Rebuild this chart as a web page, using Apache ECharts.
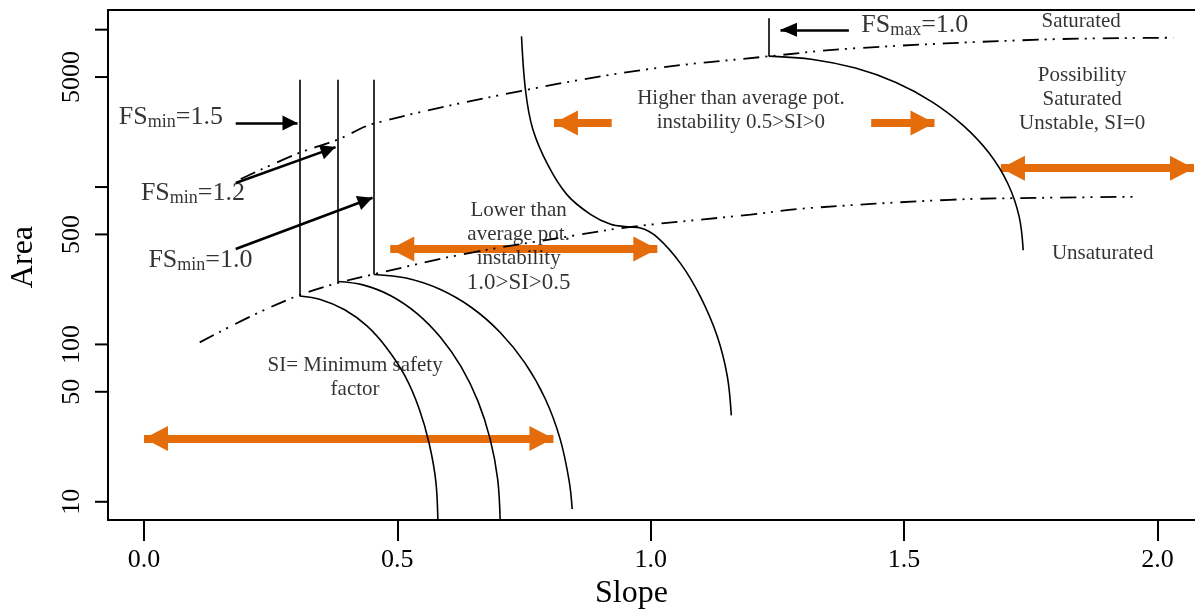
<!DOCTYPE html>
<html><head><meta charset="utf-8">
<script src="https://cdn.jsdelivr.net/npm/echarts@6/dist/echarts.min.js"></script>
<style>html,body{margin:0;padding:0;background:#fff}#c{width:1195px;height:615px}</style>
</head><body><div id="c"></div>
<script>
// ---- axes ----
const xRange = [-0.071, 2.074];
const yRange = [7.65, 13335];
const xTickValues = [0, 0.5, 1.0, 1.5, 2.0];
const xTickLabels = ['0.0', '0.5', '1.0', '1.5', '2.0'];
const yTickValues = [10, 50, 100, 500, 1000, 5000, 10000];
const yTickLabels = ['10', '50', '100', '500', '', '5000', ''];

// ---- boundary lines (dash-dot) ----
const saturatedLine = [[0.191,1125],[0.304,1637],[0.383,2005],[0.453,2527],[0.743,4074],[0.993,5598],[1.230,6761],[1.394,7586],[1.768,8644],[2.031,8892]];
const unsaturatedLine = [[0.110,103],[0.211,151],[0.304,204],[0.383,246],[0.455,280],[0.631,375],[0.862,500],[0.966,561],[1.197,668],[1.295,728],[1.591,830],[1.768,854],[1.960,867]];

// ---- safety factor curves ----
const fsMin15Curve = [[0.307,203],[0.348,193],[0.396,166],[0.440,131],[0.480,94],[0.515,63],[0.543,39],[0.563,23.3],[0.576,13.4],[0.580,7.4]];
const fsMin12Curve = [[0.382,251],[0.432,239],[0.487,204],[0.539,157],[0.585,111],[0.626,72],[0.659,43.6],[0.683,25.1],[0.698,13.9],[0.703,7.4]];
const fsMin10Curve = [[0.454,278],[0.517,264],[0.584,224],[0.647,171],[0.703,119],[0.752,76],[0.792,45],[0.821,25.2],[0.839,13.6],[0.845,9.0]];
const si05Curve = [[0.745,9065],[0.753,4091],[0.767,2350],[0.797,1383],[0.835,892],[0.881,671],[0.921,580],[0.954,559],[0.980,549],[1.013,479],[1.059,326],[1.098,201],[1.131,113],[1.151,63],[1.159,35.4]];
const fsMaxCurve = [[1.233,6790],[1.320,6470],[1.404,5700],[1.484,4620],[1.555,3480],[1.617,2455],[1.668,1637],[1.705,1046],[1.727,649],[1.735,397]];
const verticalSegments = [
  [[0.307,4800],[0.307,205]],
  [[0.382,4800],[0.382,251]],
  [[0.454,4800],[0.454,278]],
  [[1.233,11800],[1.233,6790]]
];

// ---- arrows ----
const blackArrows = [
  [[0.181,2553],[0.303,2553]],
  [[0.181,1061],[0.378,1794]],
  [[0.181,404],[0.451,854]]
];
const blackArrowFsMax = [[[1.391,9986],[1.256,9986]]];
const orangeDoubleArrows = [
  [[0.0,25.2],[0.808,25.2]],
  [[0.486,404],[1.013,404]],
  [[1.691,1318],[2.072,1318]]
];
const orangeSingleArrows = [
  [[0.923,2553],[0.809,2553]],
  [[1.435,2553],[1.560,2553]]
];

// ---- text annotations ----
const annotations = [
  {text:'{n|FS}{s|min}{n|=1.5}', x:0.053, y:2784},
  {text:'{n|FS}{s|min}{n|=1.2}', x:0.0966, y:915},
  {text:'{n|FS}{s|min}{n|=1.0}', x:0.1114, y:342},
  {text:'{n|FS}{s|max}{n|=1.0}', x:1.521, y:10656},
  {text:'Saturated', x:1.8494, y:11342},
  {text:'Higher than average pot.\ninstability 0.5>SI>0', x:1.178, y:3063},
  {text:'Possibility\nSaturated\nUnstable, SI=0', x:1.8513, y:3618},
  {text:'Unsaturated', x:1.8918, y:380},
  {text:'Lower than\naverage pot.\ninstability', x:0.7393, y:499},
  {text:'1.0>SI>0.5', x:0.7393, y:244, size:23},
  {text:'SI= Minimum safety\nfactor', x:0.4166, y:62}
];

const FONT = 'Liberation Serif';
const ORANGE = '#E46C0A';
const HEAD = 'path://M5,0 M5,10 L10,20 L0,20 Z';

const chart = echarts.init(document.getElementById('c'));

function curve(name, data, dashed) {
  return {
    type: 'line', name: name, data: data, smooth: 0.35, showSymbol: false, symbol: 'none',
    z: 3, silent: true, clip: true,
    lineStyle: dashed
      ? {color:'#000', width:1.8, type:[16,6,2,6,2,8], cap:'butt'}
      : {color:'#000', width:1.6}
  };
}

const option = {
  animation: false,
  backgroundColor: '#fff',
  grid: {left:107, right:0, top:10, bottom:89, show:false},
  xAxis: [{
    type:'value', min:xRange[0], max:xRange[1],
    axisLine:{show:true, onZero:false, lineStyle:{color:'#000', width:2}},
    axisTick:{show:true, length:21, customValues:xTickValues, lineStyle:{color:'#000', width:2}},
    axisLabel:{show:true, customValues:xTickValues, margin:27, color:'#000', fontSize:26, fontFamily:FONT,
      formatter: v => { const i = xTickValues.findIndex(t => Math.abs(t - v) < 1e-9); return i >= 0 ? xTickLabels[i] : ''; }},
    splitLine:{show:false},
    name:'Slope', nameLocation:'middle', nameGap:57,
    nameTextStyle:{color:'#000', fontSize:32, fontFamily:FONT, padding:[0,40,0,0]}
  }, {
    type:'value', position:'top', min:xRange[0], max:xRange[1],
    axisLine:{show:true, onZero:false, lineStyle:{color:'#000', width:2}},
    axisTick:{show:false}, axisLabel:{show:false}, splitLine:{show:false}
  }],
  yAxis: {
    type:'log', logBase:10, min:yRange[0], max:yRange[1],
    axisLine:{show:true, onZero:false, lineStyle:{color:'#000', width:2}},
    axisTick:{show:false}, axisLabel:{show:false}, splitLine:{show:false}, minorTick:{show:false},
    name:'Area', nameLocation:'middle', nameGap:68,
    nameTextStyle:{color:'#000', fontSize:32, fontFamily:FONT, padding:[0,0,0,16]}
  },
  series: [
    // orange region arrows
    {type:'lines', coordinateSystem:'cartesian2d', z:2, silent:true, polyline:false,
      symbol:[HEAD, HEAD], symbolSize:[[25,48],[25,48]],
      lineStyle:{color:ORANGE, width:8, opacity:1, curveness:0, cap:'butt'},
      data: orangeDoubleArrows.map(c => ({coords:c}))},
    {type:'lines', coordinateSystem:'cartesian2d', z:2, silent:true, polyline:false,
      symbol:['none', HEAD], symbolSize:[[25,48],[25,48]],
      lineStyle:{color:ORANGE, width:8, opacity:1, curveness:0, cap:'butt'},
      data: orangeSingleArrows.map(c => ({coords:c}))},
    // curves
    curve('Saturated boundary', saturatedLine, true),
    curve('Unsaturated boundary', unsaturatedLine, true),
    curve('FSmin 1.5', fsMin15Curve, false),
    curve('FSmin 1.2', fsMin12Curve, false),
    curve('FSmin 1.0', fsMin10Curve, false),
    curve('SI 0.5', si05Curve, false),
    curve('FSmax 1.0', fsMaxCurve, false),
    {type:'lines', coordinateSystem:'cartesian2d', z:3, silent:true, polyline:false, symbol:['none','none'],
      lineStyle:{color:'#000', width:1.6, opacity:1, curveness:0},
      data: verticalSegments.map(c => ({coords:c}))},
    // black pointer arrows
    {type:'lines', coordinateSystem:'cartesian2d', z:4, silent:true, polyline:false,
      symbol:['none', HEAD], symbolSize:[[15,30],[15,30]],
      lineStyle:{color:'#000', width:2.6, opacity:1, curveness:0, cap:'butt'},
      data: blackArrows.map(c => ({coords:c}))},
    {type:'lines', coordinateSystem:'cartesian2d', z:4, silent:true, polyline:false,
      symbol:['none', HEAD], symbolSize:[[14,33],[14,33]],
      lineStyle:{color:'#000', width:2.6, opacity:1, curveness:0, cap:'butt'},
      data: blackArrowFsMax.map(c => ({coords:c}))},
    // text annotations
    {type:'scatter', z:7, silent:true, symbolSize:1, itemStyle:{color:'rgba(0,0,0,0)'},
      label:{show:true, position:'inside', color:'#000', fontFamily:FONT, fontSize:21, lineHeight:24,
        rich:{
          n:{fontSize:26, fontFamily:FONT, color:'#000', lineHeight:28},
          s:{fontSize:18, fontFamily:FONT, color:'#000', verticalAlign:'bottom'}
        }},
      data: annotations.map(a => ({value:[a.x, a.y], label:{formatter:a.text, fontSize:a.size || 21}}))},
    // y-axis ticks and labels (log axis: 10, 50, 100, 500, 1000, 5000, 10000)
    {type:'custom', coordinateSystem:'cartesian2d', z:6, silent:true, clip:false,
      data: yTickValues.map((v, i) => [xRange[0], v, i]),
      renderItem: (params, api) => {
        const p = api.coord([xRange[0], api.value(1)]);
        const i = api.value(2);
        return {type:'group', children:[
          {type:'line', shape:{x1:p[0]-13, y1:p[1], x2:p[0], y2:p[1]}, style:{stroke:'#000', lineWidth:2}},
          {type:'text', x:p[0]-36, y:p[1], rotation:Math.PI/2,
            style:{text:yTickLabels[i], font:'26px "Liberation Serif"', fill:'#000', align:'center', verticalAlign:'middle'}}
        ]};
      }}
  ]
};
chart.setOption(option);
</script>
</body></html>
